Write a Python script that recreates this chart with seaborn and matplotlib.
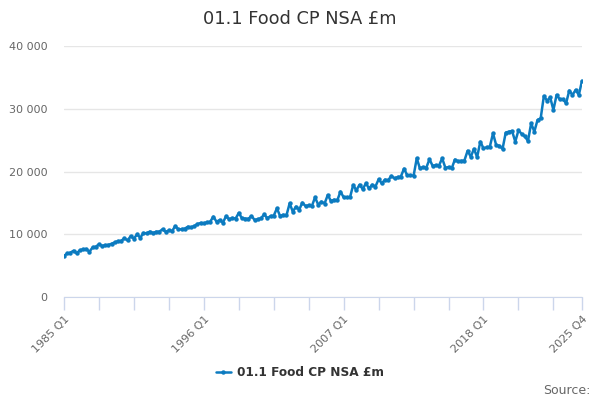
import pandas as pd
import matplotlib
matplotlib.use("Agg")
import matplotlib.pyplot as plt
import seaborn as sns

# quarterly values, 1985 Q1 .. 2025 Q4
years = list(range(1985, 2026))
values = [
    6530, 6950, 7060, 7380,      # 1985
    6960, 7450, 7590, 7650,      # 1986
    7220, 7900, 8020, 8400,      # 1987
    8150, 8250, 8300, 8500,      # 1988
    8700, 8900, 8950, 9350,      # 1989
    9030, 9700, 9300, 9990,      # 1990
    9450, 10200, 10150, 10430,   # 1991
    10200, 10400, 10430, 10780,  # 1992
    10400, 10600, 10500, 11300,  # 1993
    10780, 10800, 10900, 11200,  # 1994
    11100, 11300, 11630, 11800,  # 1995
    11750, 11900, 12000, 12800,  # 1996
    12000, 12270, 11840, 12900,  # 1997
    12370, 12600, 12500, 13400,  # 1998
    12540, 12500, 12450, 12900,  # 1999
    12270, 12400, 12540, 13170,  # 2000
    12540, 12900, 12960, 14130,  # 2001
    12900, 13100, 13000, 14920,  # 2002
    13600, 14400, 13900, 15030,  # 2003
    14500, 14600, 14500, 15880,  # 2004
    14700, 15200, 14900, 16250,  # 2005
    15300, 15500, 15400, 16800,  # 2006
    15880, 15900, 15880, 17850,  # 2007
    17000, 17900, 17200, 18100,  # 2008
    17300, 17900, 17600, 18750,  # 2009
    18100, 18700, 18600, 19300,  # 2010
    18900, 19100, 19200, 20450,  # 2011
    19400, 19400, 19300, 22100,  # 2012
    20500, 20700, 20600, 21950,  # 2013
    20900, 21000, 20950, 22100,  # 2014
    20600, 20700, 20500, 21900,  # 2015
    21600, 21700, 21750, 23300,  # 2016
    22350, 23600, 22300, 24750,  # 2017
    23700, 23850, 23950, 26080,  # 2018
    24200, 24100, 23600, 26200,  # 2019
    26350, 26450, 24750, 26560,  # 2020
    26000, 25600, 24860, 27680,  # 2021
    26350, 28200, 28480, 32030,  # 2022
    31300, 31800, 29800, 32200,  # 2023
    31500, 31500, 30900, 32900,  # 2024
    32200, 33000, 32200, 34450,  # 2025
]
quarters = [f"{y} Q{q}" for y in years for q in range(1, 5)]
label_quarters = ["1985 Q1", "1996 Q1", "2007 Q1", "2018 Q1", "2025 Q4"]
y_ticks = [0, 10000, 20000, 30000, 40000]

series_name = "01.1 Food CP NSA £m"
line_color = "#0c7bc0"

df = pd.DataFrame({"quarter": quarters, "value": values})
df["pos"] = range(len(df))

sns.set_style("white")
plt.rcParams["font.family"] = ["DejaVu Sans"]

fig = plt.figure(figsize=(6, 4), dpi=100)
ax = fig.add_axes([64 / 600, 1 - 297 / 400, (582 - 64) / 600, (297 - 46) / 400])

sns.lineplot(data=df, x="pos", y="value", ax=ax, color=line_color, linewidth=1.8,
             marker="o", markersize=3.2, markeredgewidth=0, label=series_name)

ax.set_xlim(0, len(df) - 1)
ax.set_ylim(0, 40000)
ax.set_yticks(y_ticks)
ax.set_yticklabels([f"{v:,}".replace(",", " ") for v in y_ticks])
ax.grid(axis="y", color="#e6e6e6", linewidth=1)
ax.set_axisbelow(True)

# tick marks every 11 quarters plus the last one, labels on a few
minor = list(range(0, len(df), 11)) + [len(df) - 1]
ax.set_xticks(minor)
ax.set_xticklabels([q if q in label_quarters else "" for q in df["quarter"].iloc[minor]],
                   rotation=45, ha="right", rotation_mode="anchor")
ax.tick_params(axis="x", bottom=True, direction="out", length=9, color="#ccd6eb", width=1,
               labelsize=8, labelcolor="#666666", pad=3)
ax.tick_params(axis="y", left=False, length=0, labelsize=8, labelcolor="#666666", pad=12)

for side in ["top", "right", "left"]:
    ax.spines[side].set_visible(False)
ax.spines["bottom"].set_color("#ccd6eb")
ax.set_xlabel("")
ax.set_ylabel("")

fig.suptitle(series_name, x=0.5, y=0.975, fontsize=12.8, color="#333333")

leg = ax.legend(loc="center", bbox_to_anchor=(0.5, 1 - 373 / 400), bbox_transform=fig.transFigure,
                frameon=False, handlelength=1.3, handletextpad=0.5,
                prop={"weight": "bold", "size": 8.7})
for t in leg.get_texts():
    t.set_color("#333333")

fig.text(590 / 600, 1 - 390 / 400, "Source:", ha="right", va="center", fontsize=9, color="#666666")

fig.savefig("out.png", dpi=100)
